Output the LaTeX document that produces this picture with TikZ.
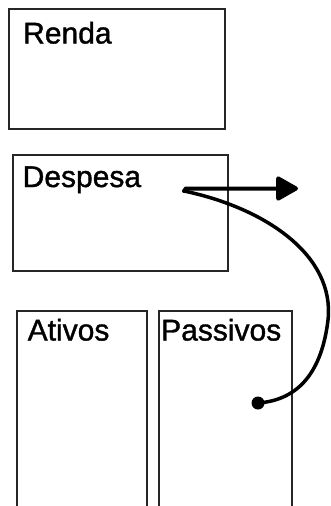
\documentclass[tikz,border=0pt]{standalone}
\usepackage{fontspec}
\setmainfont[FakeBold=1.2]{Liberation Sans}
\usetikzlibrary{arrows.meta}
\begin{document}
\begin{tikzpicture}[x=1pt,y=-1pt,
  box/.style={draw=black!85,line width=1.6pt},
  lbl/.style={anchor=base west,inner sep=0pt,text=black,font=\fontsize{30}{36}\selectfont},
  flow/.style={line width=4pt,line cap=round}]
\useasboundingbox (0,0) rectangle (330,506);
\clip (0,0) rectangle (330,506);
\fill[white] (0,0) rectangle (330,506);
% boxes
\draw[box] (9,9) rectangle (225,129);
\draw[box] (13,155) rectangle (228,271);
\draw[box] (17,311) rectangle (147,520);
\draw[box] (159,311) rectangle (292,520);
% labels
\node[lbl] (renda) at (23,43.5) {Renda};
\node[lbl] (despesa) at (22.5,187) {Despesa};
\node[lbl] (ativos) at (27.5,340.5) {Ativos};
\node[lbl] (passivos) at (161,340.5) {Passivos};
% connectors
\coordinate (src) at (184,191);
\coordinate (tip) at (298,188.5);
\coordinate (dst) at (258,403);
\draw[flow,-{Triangle[length=24pt,width=26pt,round]}] (src) -- ([xshift=2pt]src |- tip) -- (tip);
\draw[line width=3.5pt,line cap=round] (src) .. controls (265,208) and (335,255) .. (328,320)
  .. controls (322,370) and (300,400) .. (dst);
\fill (dst) circle (6.5);
\end{tikzpicture}
\end{document}
